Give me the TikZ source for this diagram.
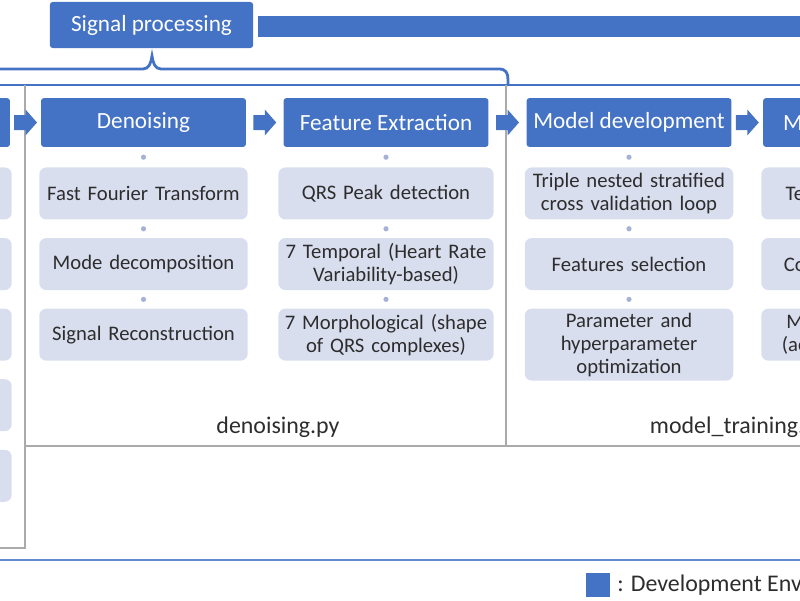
\documentclass[tikz,border=0pt]{standalone}
\usepackage{fontspec}
\setmainfont{Carlito}
\usetikzlibrary{positioning,calc}

\definecolor{headblue}{RGB}{68,114,196}
\definecolor{itemgray}{RGB}{217,222,239}
\definecolor{dotgray}{RGB}{165,178,214}
\definecolor{sepgray}{RGB}{170,170,170}
\definecolor{textgray}{RGB}{45,45,45}
\definecolor{lineblue}{RGB}{100,138,206}

\begin{document}
\begin{tikzpicture}[x=0.025cm,y=-0.025cm,node distance=0.45cm,
  stage/.style={fill=headblue,text=white,rounded corners=2pt,minimum width=5.12cm,
    minimum height=1.22cm,inner sep=0pt,font=\fontsize{16.5}{19}\selectfont},
  task/.style={fill=itemgray,rounded corners=5pt,minimum width=5.2cm,minimum height=1.3cm,
    text width=5cm,align=center,inner xsep=3pt,inner ysep=3pt,text=textgray,
    font=\fontsize{14.7}{16.3}\selectfont},
  chev/.pic={\fill[headblue] (-11.5,-7.5) -- (0,-7.5) -- (0,-13) -- (11.5,0)
    -- (0,13) -- (0,7.5) -- (-11.5,7.5) -- cycle;},
  gapdot/.style={circle,fill=dotgray,inner sep=0pt,minimum size=0.13cm},
  divider/.style={draw=sepgray,line width=1.4pt},
  filename/.style={text=textgray,font=\fontsize{17}{20}\selectfont}]

  \useasboundingbox (0,0) rectangle (800,600);
  \clip (0,0) rectangle (800,600);

  % top banner
  \node[stage,minimum width=5.08cm,minimum height=1.15cm] (sig) at (151.5,25) {Signal processing};
  \fill[headblue] (258,16) rectangle (820,37);

  % brace and frame lines
  \draw[headblue,line width=2pt] (-10,69) -- (143,69)
    .. controls (149,69) and (151,63) .. (152,56)
    .. controls (153,63) and (155,69) .. (161,69) -- (499,69)
    .. controls (506,69) and (508,73) .. (508,80) -- (508,86);
  \draw[headblue,line width=1.3pt] (-10,85) -- (810,85);
  \draw[divider] (25,85) -- (25,548) -- (-10,548);
  \draw[divider] (506,85) -- (506,446);
  \draw[divider] (25,446) -- (810,446);
  \draw[lineblue,line width=2pt] (-10,560) -- (810,560);

  % stage headers
  \node[stage] (prep) at (-92.5,122.5) {};
  \node[stage] (den) at (143.5,122.5) {Denoising};
  \node[stage] (fe) at (386,122.5) {Feature Extraction};
  \node[stage] (md) at (629,122.5) {Model development};
  \node[stage] (eval) at (865.5,122.5) {Model evaluation};

  % left column
  \node[task] (p1) [below=0.5cm of prep] {};
  \node[task] (p2) [below=of p1] {};
  \node[task] (p3) [below=of p2] {};
  \node[task] (p4) [below=of p3] {};
  \node[task] (p5) [below=of p4] {};

  % denoising
  \node[task] (fft) [below=0.5cm of den] {Fast Fourier Transform};
  \node[task] (mode) [below=of fft] {Mode decomposition};
  \node[task] (recon) [below=of mode] {Signal Reconstruction};

  % features
  \node[task,minimum width=5.38cm,text width=5.15cm] (qrs) [below=0.5cm of fe] {QRS Peak detection};
  \node[task,minimum width=5.38cm,text width=5.15cm] (temp) [below=of qrs] {7 Temporal (Heart Rate\\Variability-based)};
  \node[task,minimum width=5.38cm,text width=5.15cm] (morph) [below=of temp] {7 Morphological (shape\\of QRS complexes)};

  % model
  \node[task] (cv) [below=0.5cm of md] {Triple nested stratified\\cross validation loop};
  \node[task] (fsel) [below=of cv] {Features selection};
  \node[task] (hpo) [below=of fsel] {Parameter and\\hyperparameter\\optimization};

  % evaluation
  \node[task] (test) [below=0.5cm of eval] {Test set evaluation};
  \node[task] (conf) [below=of test] {Confusion matrices};
  \node[task] (metr) [below=of conf] {Metrics evaluation\\(accuracy, F1-score)};

  \foreach \a/\b in {den/fft,fft/mode,mode/recon,fe/qrs,qrs/temp,temp/morph,md/cv,cv/fsel,fsel/hpo}
    \path (\a.south) -- node[gapdot] {} (\b.north);

  \foreach \a/\b in {prep/den,den/fe,fe/md,md/eval}
    \path ($(\a.east)!0.5!(\b.west)$) pic {chev};

  % file names
  \node[filename] (denfile) at (278,427) {denoising.py};
  \node[filename,anchor=west] (mdfile) at (645,427) {model\_training.py};

  % legend
  \node[fill=headblue,minimum size=0.6cm,inner sep=0pt] (legbox) at (598,585) {};
  \node[filename,right=0.05cm of legbox] (legtext) {: Development Environment};
\end{tikzpicture}
\end{document}
